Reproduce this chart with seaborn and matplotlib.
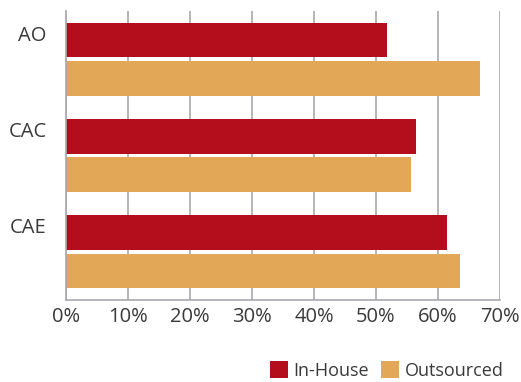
import matplotlib
matplotlib.use("Agg")
import matplotlib.pyplot as plt
import matplotlib.transforms as mtransforms
from matplotlib.ticker import FuncFormatter, MultipleLocator
import pandas as pd
import seaborn as sns

categories = ["AO", "CAC", "CAE"]
in_house = [51.7, 56.5, 61.5]
outsourced = [66.8, 55.6, 63.5]
series_names = ["In-House", "Outsourced"]
colors = ["#B40E1C", "#E2A857"]

df = pd.DataFrame({
    "category": categories * 2,
    "value": in_house + outsourced,
    "source": [series_names[0]] * 3 + [series_names[1]] * 3,
})

sns.set_theme(style="white")
plt.rcParams["font.family"] = ["Open Sans", "DejaVu Sans"]
text_color = "#3a3a3a"
grid_color = "#A9A9AE"

fig = plt.figure(figsize=(5.21, 3.82), dpi=100)
ax = fig.add_axes([0.1267, 0.2147, 0.8330, 0.7565])

sns.barplot(data=df, x="value", y="category", hue="source", order=categories,
            hue_order=series_names, palette=colors, orient="h",
            width=0.8, gap=0.1, saturation=1, linewidth=0, ax=ax, legend=True)

ax.set_xlim(0, 70)
ax.set_ylim(2.5, -0.5)
ax.xaxis.set_major_locator(MultipleLocator(10))
ax.xaxis.set_major_formatter(FuncFormatter(lambda v, _: f"{v:.0f}%"))
ax.set_xlabel("")
ax.set_ylabel("")

ax.set_axisbelow(True)
ax.grid(axis="x", color=grid_color, linewidth=1.2)
ax.grid(axis="y", visible=False)
for side in ["top", "right"]:
    ax.spines[side].set_visible(False)
for side in ["left", "bottom"]:
    ax.spines[side].set_color(grid_color)
    ax.spines[side].set_linewidth(1.2)

ax.tick_params(axis="x", length=0, pad=5, labelsize=14.5, labelcolor=text_color)
ax.tick_params(axis="y", length=0, pad=14, labelsize=14.5, labelcolor=text_color)

# lift category labels toward the upper bar of each group
shift = mtransforms.ScaledTranslation(0, 0.26, fig.dpi_scale_trans)
for lbl in ax.get_yticklabels():
    lbl.set_transform(lbl.get_transform() + shift)

handles, labels = ax.get_legend_handles_labels()
ax.legend(handles, labels, loc="lower right", bbox_to_anchor=(0.966, 0.006),
          bbox_transform=fig.transFigure, ncol=2, frameon=False,
          handlelength=1.0, handleheight=1.0, handletextpad=0.3,
          columnspacing=0.65, fontsize=13, labelcolor=text_color,
          borderaxespad=0.0, borderpad=0.0)

fig.savefig("out.png", dpi=100)
